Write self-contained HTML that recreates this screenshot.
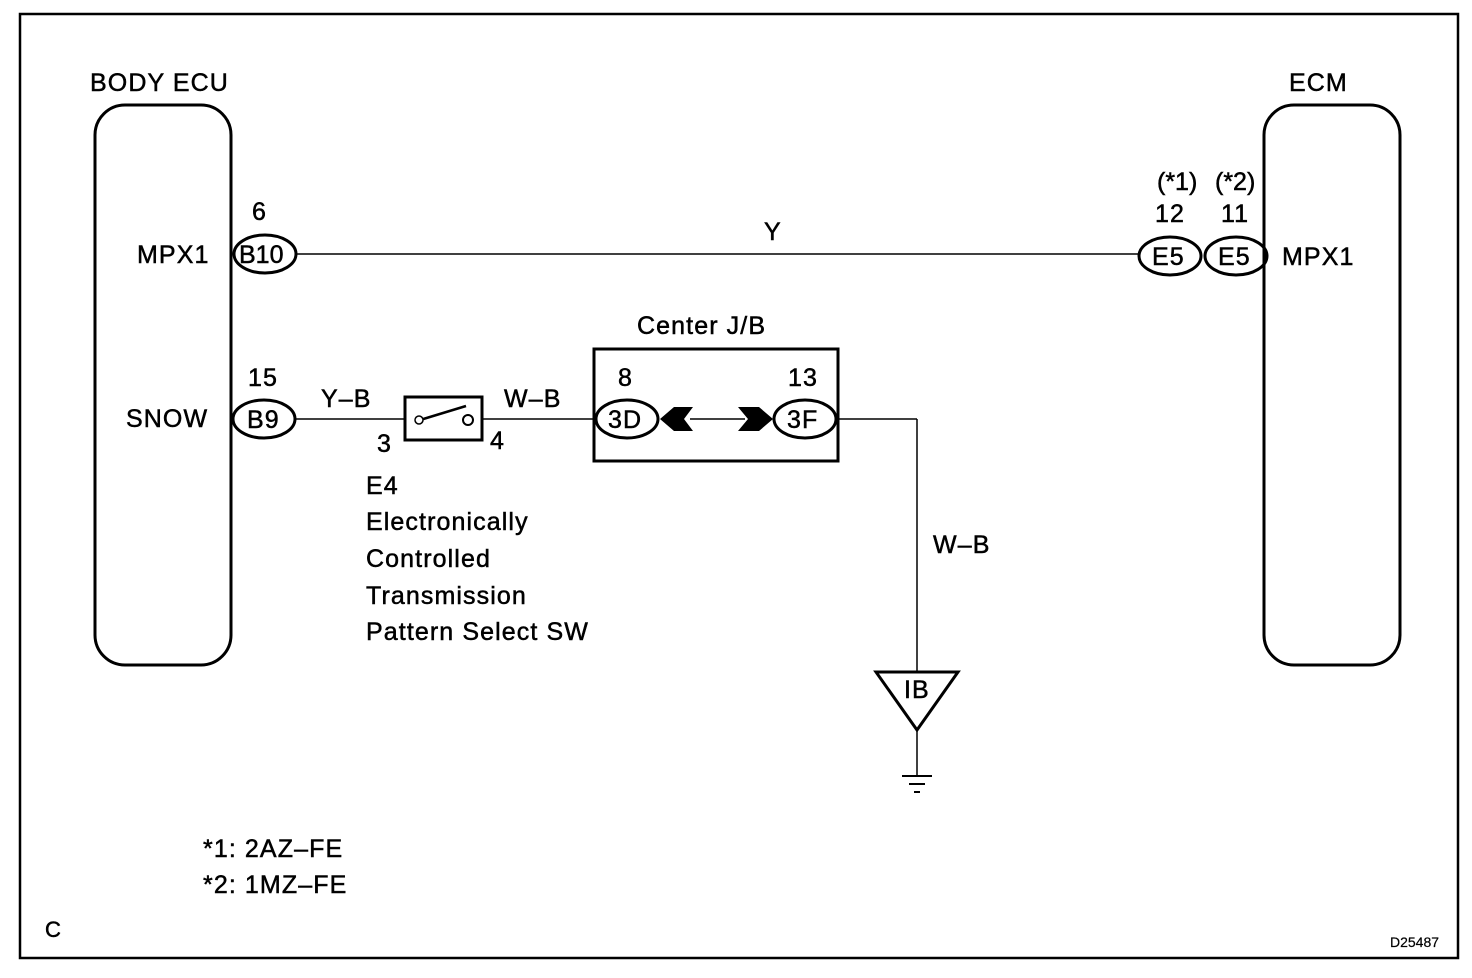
<!DOCTYPE html>
<html><head><style>
body{margin:0;background:#fff}
svg{display:block}
text{font-family:"Liberation Sans",Arial,sans-serif;font-size:25px;fill:#000;stroke:#000;stroke-width:0.5;letter-spacing:1.1px}
</style></head><body>
<svg width="1472" height="978" viewBox="0 0 1472 978" xmlns="http://www.w3.org/2000/svg">
<rect x="20" y="14" width="1438" height="944" fill="none" stroke="#000" stroke-width="2.5"/>
<g fill="none" stroke="#000" stroke-width="3">
<rect x="95" y="105" width="136" height="560" rx="30"/>
<rect x="1264" y="105" width="136" height="560" rx="30"/>
<rect x="594" y="349" width="244" height="112"/>
<rect x="405" y="397" width="77" height="43"/>
<ellipse cx="265" cy="254" rx="31" ry="19"/>
<ellipse cx="1170" cy="256" rx="31" ry="19"/>
<ellipse cx="1236" cy="256" rx="31" ry="19"/>
<ellipse cx="264" cy="419" rx="31" ry="19"/>
<ellipse cx="627" cy="419" rx="31" ry="19"/>
<ellipse cx="805" cy="419" rx="31" ry="19"/>
<polygon points="876,672 958,672 917,730"/>
</g>
<g stroke="#000" stroke-width="1.5" fill="none">
<line x1="296" y1="254" x2="1139" y2="254"/>
<line x1="295" y1="419" x2="405" y2="419"/>
<line x1="482" y1="419" x2="596" y2="419"/>
<line x1="690" y1="419" x2="745" y2="419"/>
<line x1="836" y1="419" x2="917" y2="419"/>
<line x1="917" y1="419" x2="917" y2="672"/>
<line x1="917" y1="730" x2="917" y2="776"/>
<line x1="420" y1="420" x2="466" y2="406" stroke-width="2.5"/>
<circle cx="419" cy="420" r="4" fill="#fff"/>
<circle cx="468" cy="420" r="5" fill="#fff" stroke-width="2"/>
</g>
<g stroke="#000" stroke-width="2">
<line x1="902" y1="776" x2="932" y2="776"/>
<line x1="909" y1="784" x2="925" y2="784"/>
<line x1="914" y1="792" x2="920" y2="792"/>
</g>
<polygon points="660,419 674,407 693,407 684,419 693,431 674,431" fill="#000"/>
<polygon points="773,419 759,407 738,407 748,419 738,431 759,431" fill="#000"/>
<text x="90" y="91">BODY ECU</text>
<text x="1289" y="91">ECM</text>
<text x="252" y="220">6</text>
<text x="137" y="263">MPX1</text>
<text x="239" y="263" style="letter-spacing:0">B10</text>
<text x="764" y="240">Y</text>
<text x="1157" y="190" style="letter-spacing:0">(*1)</text>
<text x="1215" y="190" style="letter-spacing:0">(*2)</text>
<text x="1155" y="222">12</text>
<text x="1221" y="222">11</text>
<text x="1152" y="265">E5</text>
<text x="1218" y="265">E5</text>
<text x="1282" y="265">MPX1</text>
<text x="637" y="334">Center J/B</text>
<text x="248" y="386">15</text>
<text x="126" y="427">SNOW</text>
<text x="247" y="428">B9</text>
<text x="321" y="407">Y–B</text>
<text x="504" y="407">W–B</text>
<text x="377" y="452">3</text>
<text x="490" y="449">4</text>
<text x="618" y="386">8</text>
<text x="788" y="386">13</text>
<text x="608" y="428">3D</text>
<text x="787" y="428">3F</text>
<text x="366" y="494">E4</text>
<text x="366" y="530">Electronically</text>
<text x="366" y="567">Controlled</text>
<text x="366" y="604">Transmission</text>
<text x="366" y="640">Pattern Select SW</text>
<text x="933" y="553">W–B</text>
<text x="904" y="698">IB</text>
<text x="203" y="857">*1: 2AZ–FE</text>
<text x="203" y="893">*2: 1MZ–FE</text>
<text x="45" y="937" style="font-size:22px">C</text>
<text x="1390" y="947" style="font-size:14px;letter-spacing:0;stroke-width:0.2">D25487</text>
</svg>
</body></html>
